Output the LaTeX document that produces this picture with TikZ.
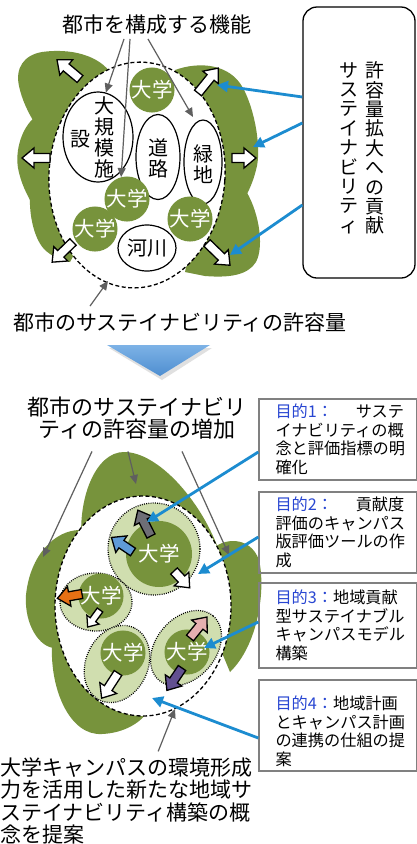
\documentclass[tikz,border=0pt]{standalone}
\usepackage{fontspec}
\setmainfont{Noto Sans CJK JP}
\usepackage{tikz}
\usetikzlibrary{arrows.meta,positioning,shapes.geometric}
\definecolor{leaf}{RGB}{119,147,60}
\definecolor{leaflight}{RGB}{208,222,175}
\definecolor{sky}{RGB}{28,140,208}
\definecolor{goalblue}{RGB}{40,70,210}
\definecolor{pointgray}{RGB}{95,95,95}
\definecolor{slate}{RGB}{110,110,118}
\definecolor{cornflower}{RGB}{95,155,215}
\definecolor{tangerine}{RGB}{230,112,20}
\definecolor{rose}{RGB}{230,176,176}
\definecolor{plum}{RGB}{98,80,145}

% outlined block arrow: [scale]{fill}{x}{y}{angle}{length}
\newcommand{\blockarrow}[6][1]{%
  \begin{scope}[shift={(#3,#4)}, rotate=#5, scale=#1]
    \draw[line width=1.3pt, fill=#2] (0,-4.5) -- (#6-12,-4.5) -- (#6-12,-10) -- (#6,0)
      -- (#6-12,10) -- (#6-12,4.5) -- (0,4.5) -- cycle;
  \end{scope}}

\begin{document}
\begin{tikzpicture}[x=1pt, y=-1pt,
  every node/.style={inner sep=0pt},
  bigtext/.style={font=\fontsize{21}{22.5}\selectfont, align=center},
  tate/.style={font=\fontsize{20}{21}\selectfont, align=center},
  oval/.style={ellipse, draw, line width=1.2pt, fill=white},
  campus/.style={circle, fill=leaf, text=white, minimum size=43pt, font=\fontsize{20.5}{20.5}\selectfont},
  rim/.style={draw, fill=white, line width=1.3pt, dash pattern=on 4pt off 2.5pt},
  halo/.style={draw, fill=leaflight, line width=1.3pt, dash pattern=on 0.9pt off 1.3pt},
  pointer/.style={draw=pointgray, line width=1.2pt, -{Triangle[length=9pt,width=8pt]}},
  feed/.style={draw=sky, line width=2.8pt, -{Triangle[length=11pt,width=11pt]}},
  goal/.style={draw=gray, line width=1.4pt, minimum width=157.5pt},
  goaltext/.style={font=\fontsize{16.2}{18.5}\selectfont, align=left}]

  \path[fill=white, use as bounding box] (0,0) rectangle (417,844);

  % ---- city functions ----
  \node[bigtext] (funcs) at (157,25) {都市を構成する機能};

  % green lobes round the city
  \fill[leaf] (112,75) .. controls (100,55) and (70,48) .. (42,52)
    .. controls (24,55) and (15,68) .. (19,86) .. controls (22,100) and (28,112) .. (34,122)
    -- (90,122) -- cycle;
  \fill[leaf] (34,118) .. controls (22,128) and (15,150) .. (18,168)
    .. controls (21,184) and (27,194) .. (31,202) -- (62,202) -- (62,122) -- cycle;
  \fill[leaf] (30,195) .. controls (29,215) and (34,238) .. (44,249)
    .. controls (51,256) and (60,260) .. (70,262) -- (82,240) -- (60,195) -- cycle;
  \fill[leaf] (175,70) .. controls (200,61) and (230,64) .. (243,88)
    .. controls (255,110) and (262,150) .. (256,170) .. controls (253,182) and (249,190) .. (246,196)
    -- (205,205) -- (185,110) -- cycle;
  \fill[leaf] (244,188) .. controls (258,208) and (265,245) .. (256,262)
    .. controls (248,275) and (230,278) .. (205,276) -- (185,272) -- (205,180) -- cycle;
  \draw[rim, rotate around={-4:(137,175)}] (137,175) ellipse [x radius=88pt, y radius=113pt];

  \node[oval, minimum width=70pt, minimum height=90pt] (plant) at (98,137) {};
  \node[tate] (plantA) at (104,137) {大\\規\\模\\施};
  \node[tate] (plantB) at (80,139) {設};
  \node[oval, minimum width=44pt, minimum height=85pt] (road) at (158,157) {};
  \node[tate] (roadT) at (158,158) {道\\路};
  \node[oval, minimum width=38pt, minimum height=84pt] (green) at (203,162) {};
  \node[tate] (greenT) at (203,164) {緑\\地};
  \node[oval, minimum width=58pt, minimum height=46pt, font=\fontsize{20}{20}\selectfont] (river) at (147,248) {河川};

  \node[campus] (uni1) at (152,90) {大学};
  \node[campus] (uni2) at (127,199) {大学};
  \node[campus] (uni3) at (95,229) {大学};
  \node[campus] (uni4) at (190,219) {大学};

  \coordinate (greenN) at (193,117);
  \draw[pointer] ([xshift=-33pt,yshift=-4pt]funcs.south) -- (plant.80);
  \draw[pointer] ([xshift=-27pt,yshift=-4pt]funcs.south) -- (uni2.105);
  \draw[pointer] ([xshift=-9pt,yshift=-4pt]funcs.south) -- (greenN);

  \blockarrow{white}{80}{79}{140}{30}
  \blockarrow{white}{50}{158}{180}{28}
  \blockarrow{white}{73}{242}{224}{29}
  \blockarrow{white}{198}{93}{51}{32}
  \blockarrow{white}{232}{158}{0}{24}
  \blockarrow{white}{207}{243}{-44}{32}

  \node[draw, line width=1.3pt, rounded corners=14pt, minimum width=112pt, minimum height=271pt] (contrib) at (359,142.5) {};
  \node[font=\fontsize{19}{19.4}\selectfont, align=center] (contribA) at (375,148) {許\\容\\量\\拡\\大\\へ\\の\\貢\\献};
  \node[font=\fontsize{19}{19.4}\selectfont, align=center] (contribB) at (349,148) {サ\\ス\\テ\\イ\\ナ\\ビ\\リ\\テ\\ィ};

  \coordinate (lobeNE) at (217,85);
  \coordinate (lobeE) at (253,147);
  \coordinate (lobeSE) at (230,255);
  \draw[feed] ([yshift=45.5pt]contrib.west) -- (lobeNE);
  \draw[feed] ([yshift=19.5pt]contrib.west) -- (lobeE);
  \draw[feed] ([yshift=-62.5pt]contrib.west) -- (lobeSE);

  \node[bigtext] (capacity) at (180,322) {都市のサステイナビリティの許容量};
  \coordinate (rimS) at (108,281);
  \draw[pointer] ([xshift=-90pt,yshift=6pt]capacity.north) -- (rimS);

  % ---- step down ----
  \fill[black!12] (109,348) -- (212,348) -- (162,380) -- cycle;
  \shade[top color={rgb,255:red,125;green,178;blue,230}, bottom color={rgb,255:red,78;green,142;blue,208}]
    (107,345) -- (210,345) -- (160,376) -- cycle;

  % ---- enlarged capacity ----
  \node[bigtext, font=\fontsize{22}{22}\selectfont] (gain) at (137,418) {都市のサステイナビリ\\ティの許容量の増加};

  \fill[leaf] (82,545) .. controls (77,500) and (95,452) .. (124,452)
    .. controls (158,452) and (200,500) .. (218,548) -- cycle;
  \fill[leaf] (80,530) .. controls (55,530) and (30,555) .. (26,595)
    .. controls (24,625) and (40,648) .. (55,648) -- (90,640) -- (92,580) -- cycle;
  \fill[leaf] (52,645) .. controls (50,690) and (70,736) .. (102,734)
    .. controls (125,733) and (140,722) .. (146,714) -- (100,650) -- cycle;
  \fill[leaf] (212,550) .. controls (222,538) and (250,535) .. (259,560)
    .. controls (266,590) and (258,645) .. (230,672) -- (200,600) -- cycle;
  \draw[rim] (143,606) ellipse [x radius=88pt, y radius=110pt];

  \draw[halo] (154,549) circle [radius=46pt];
  \draw[halo] (96,602) ellipse [x radius=36pt, y radius=29pt];
  \draw[halo, rotate around={65:(117,664)}] (117,664) ellipse [x radius=40pt, y radius=31pt];
  \draw[halo, rotate around={50:(186,648)}] (186,648) ellipse [x radius=42pt, y radius=30pt];

  \node[campus, minimum size=66pt] (uniA) at (159,554) {大学};
  \node[campus, minimum size=42pt] (uniB) at (101,596) {大学};
  \node[campus, minimum size=44pt] (uniC) at (123,653) {大学};
  \node[campus, minimum size=42pt] (uniD) at (187,652) {大学};

  \blockarrow{slate}{151}{536}{117}{29}
  \blockarrow{cornflower}{133}{552}{146}{26}
  \blockarrow{white}{174}{571}{-47}{23}
  \blockarrow{tangerine}{82}{594}{190}{25}
  \blockarrow[0.75]{white}{100}{610}{234}{28}
  \blockarrow{rose}{190}{638}{51}{27}
  \blockarrow{plum}{182}{668}{236}{27}
  \blockarrow{white}{118}{673}{237}{30}

  \coordinate (lobeW) at (43,557);
  \coordinate (lobeN) at (136,484);
  \coordinate (lobeR) at (229,555);
  \draw[pointer] ([xshift=-45pt,yshift=-12pt]gain.south) -- (lobeW);
  \draw[pointer] ([xshift=-9pt,yshift=-12pt]gain.south) -- (lobeN);
  \draw[pointer] ([xshift=45pt,yshift=-12pt]gain.south) -- (lobeR);

  \node[bigtext, align=left, anchor=west] (proposal) at (0,801)
    {大学キャンパスの環境形成\\力を活用した新たな地域サ\\ステイナビリティ構築の概\\念を提案};
  \coordinate (rimB) at (175,709);
  \draw[pointer] ([xshift=32pt,yshift=6pt]proposal.north) -- (rimB);

  % ---- research aims ----
  \node[goal, minimum height=81pt] (goal1) at (337.75,439.5) {};
  \node[goaltext, right=17pt of goal1.west] (aim1)
    {\textcolor{goalblue}{目的1：}\hspace{1.4em}サステ\\イナビリティの概\\念と評価指標の明\\確化};
  \node[goal, minimum height=81pt] (goal2) at (337.75,532.5) {};
  \node[goaltext, right=17pt of goal2.west] (aim2)
    {\textcolor{goalblue}{目的2：}\hspace{1.4em}貢献度\\評価のキャンパス\\版評価ツールの作\\成};
  \node[goal, minimum height=85pt] (goal3) at (337.75,625.5) {};
  \node[goaltext, right=17pt of goal3.west] (aim3)
    {\textcolor{goalblue}{目的3：}地域貢献\\型サステイナブル\\キャンパスモデル\\構築};
  \node[goal, minimum height=91pt] (goal4) at (337.75,725.5) {};
  \node[goaltext, right=17pt of goal4.west, yshift=-6pt] (aim4)
    {\textcolor{goalblue}{目的4：}地域計画\\とキャンパス計画\\の連携の仕組の提\\案};

  \coordinate (hub1) at (147,522);
  \coordinate (hub2) at (198,574);
  \coordinate (hub3) at (204,648);
  \coordinate (hub4) at (152,698);
  \draw[feed] ([yshift=-12.5pt]goal1.west) -- (hub1);
  \draw[feed] ([yshift=-4.5pt]goal2.west) -- (hub2);
  \draw[feed] ([yshift=3.5pt]goal3.west) -- (hub3);
  \draw[feed] ([yshift=-12.5pt]goal4.west) -- (hub4);
\end{tikzpicture}
\end{document}
